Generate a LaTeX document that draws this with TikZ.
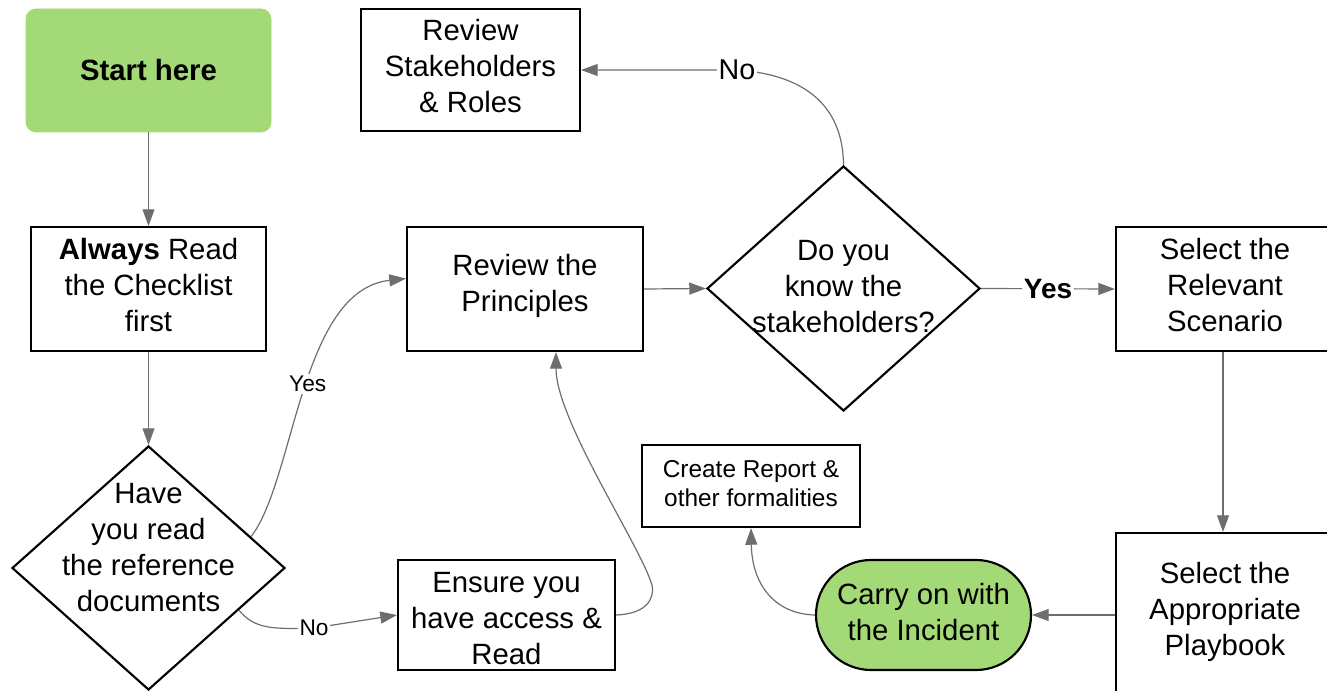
\documentclass[tikz,border=0pt]{standalone}
\usepackage{fontspec}
\setmainfont{Liberation Sans}
\usetikzlibrary{arrows.meta,shapes.geometric,shapes.misc,calc}
\definecolor{gfill}{HTML}{A3D977}
\definecolor{conn}{HTML}{6E6E6E}
\begin{document}
\begin{tikzpicture}[x=0.75pt,y=0.75pt,
  box/.style={draw=black, line width=1.6pt, rectangle, inner sep=0pt, align=center,
    font=\fontsize{22}{27}\selectfont},
  dia/.style={draw=black, line width=1.6pt, diamond, inner sep=0pt},
  txt/.style={inner sep=0pt, align=center, font=\fontsize{22}{27}\selectfont},
  arr/.style={draw=conn, line width=0.9pt, -{Triangle[length=12.5pt,width=9pt]}},
  lbl/.style={fill=white, inner sep=1.5pt, text=black, font=\fontsize{17}{20}\selectfont},
  lblbig/.style={fill=white, inner sep=1.5pt, text=black, font=\fontsize{21.5}{24}\selectfont},
  lblbold/.style={fill=white, inner sep=1.5pt, text=black, font=\fontsize{21}{24}\selectfont\bfseries}
]
\useasboundingbox (0,0) rectangle (1327,-691);

% nodes
\node[box, draw=gfill, line width=0.6pt, fill=gfill, rounded corners=7.5pt,
  minimum width=183.75pt, minimum height=92.25pt, font=\fontsize{22}{27}\selectfont\bfseries]
  (start) at (148.5,-70.5) {Start here};
\node[box, minimum width=176.25pt, minimum height=93pt] (read) at (148.5,-289) {};
\node[txt] (readt) at (148.5,-285) {\textbf{Always} Read\\the Checklist\\first};
\node[dia, minimum width=204.75pt, minimum height=183pt] (d1) at (148.5,-568) {};
\node[txt] (d1t) at (148.5,-548) {Have\\you read\\the reference\\documents};
\node[box, minimum width=164.25pt, minimum height=91.5pt] (rs) at (470.5,-70) {};
\node[txt] (rst) at (470.5,-66.5) {Review\\Stakeholders\\\& Roles};
\node[box, minimum width=177pt, minimum height=93pt] (p) at (525,-289) {};
\node[txt] (pt) at (525,-286) {Review the\\Principles};
\node[dia, minimum width=204.75pt, minimum height=183.75pt] (d2) at (843.5,-288.5) {};
\node[txt] (d2t) at (843.5,-287) {Do you\\know the\\stakeholders?};
\node[box, minimum width=160.5pt, minimum height=93pt] (sc) at (1223,-289) {};
\node[txt] (sct) at (1225,-285) {Select the\\Relevant\\Scenario};
\node[box, minimum width=160.5pt, minimum height=129pt] (pb) at (1223,-619) {};
\node[txt] (pbt) at (1225,-612) {Select the\\Appropriate\\Playbook};
\node[box, minimum width=163.5pt, minimum height=61.5pt] (cr) at (751,-486) {};
\node[txt, font=\fontsize{18.3}{21.75}\selectfont] (crt) at (751,-484)
  {Create Report \&\\other formalities};
\node[draw=black, line width=1.6pt, rounded rectangle, fill=gfill, inner sep=0pt,
  minimum width=161.25pt, minimum height=82.5pt] (co) at (923.5,-615) {};
\node[txt] (cot) at (923.5,-612) {Carry on with\\the Incident};
\node[box, minimum width=162.75pt, minimum height=82.5pt] (ens) at (506.5,-615) {};
\node[txt] (enst) at (506.5,-619) {Ensure you\\have access \&\\Read};

% helper coordinates
\coordinate (noA) at (314,-628);
\coordinate (noB) at (737,-70);
\coordinate (kink) at (652,-585);
\coordinate (pIn) at ($(p.south)+(31,0)$);

% connectors
\draw[arr] (start) -- (read);
\draw[arr] (read) -- (d1.north);
\draw[arr] (d1.17) .. controls (295,-480) and (300,-290) .. node[lbl, pos=0.52]{Yes} (p.175);
\draw[arr] (d1.-25) .. controls (255,-630) and (275,-629) .. (noA) node[lbl]{No} -- (ens.west);
\draw[arr] (ens.east) .. controls (645,-614) and (655,-600) .. (kink)
  .. controls (640,-545) and (556,-420) .. (pIn);
\draw[arr] (p.east) -- (d2.west);
\draw[arr] (d2.east) -- node[lblbold]{Yes} (sc.west);
\draw[arr] (d2.north) .. controls (843,-110) and (810,-75) .. (noB) node[lblbig]{No} -- (rs.east);
\draw[arr] (sc) -- (pb);
\draw[arr] (pb.west |- co.east) -- (co.east);
\draw[arr] (co.west) .. controls (775,-614) and (752,-585) .. (cr.south);
\end{tikzpicture}
\end{document}
